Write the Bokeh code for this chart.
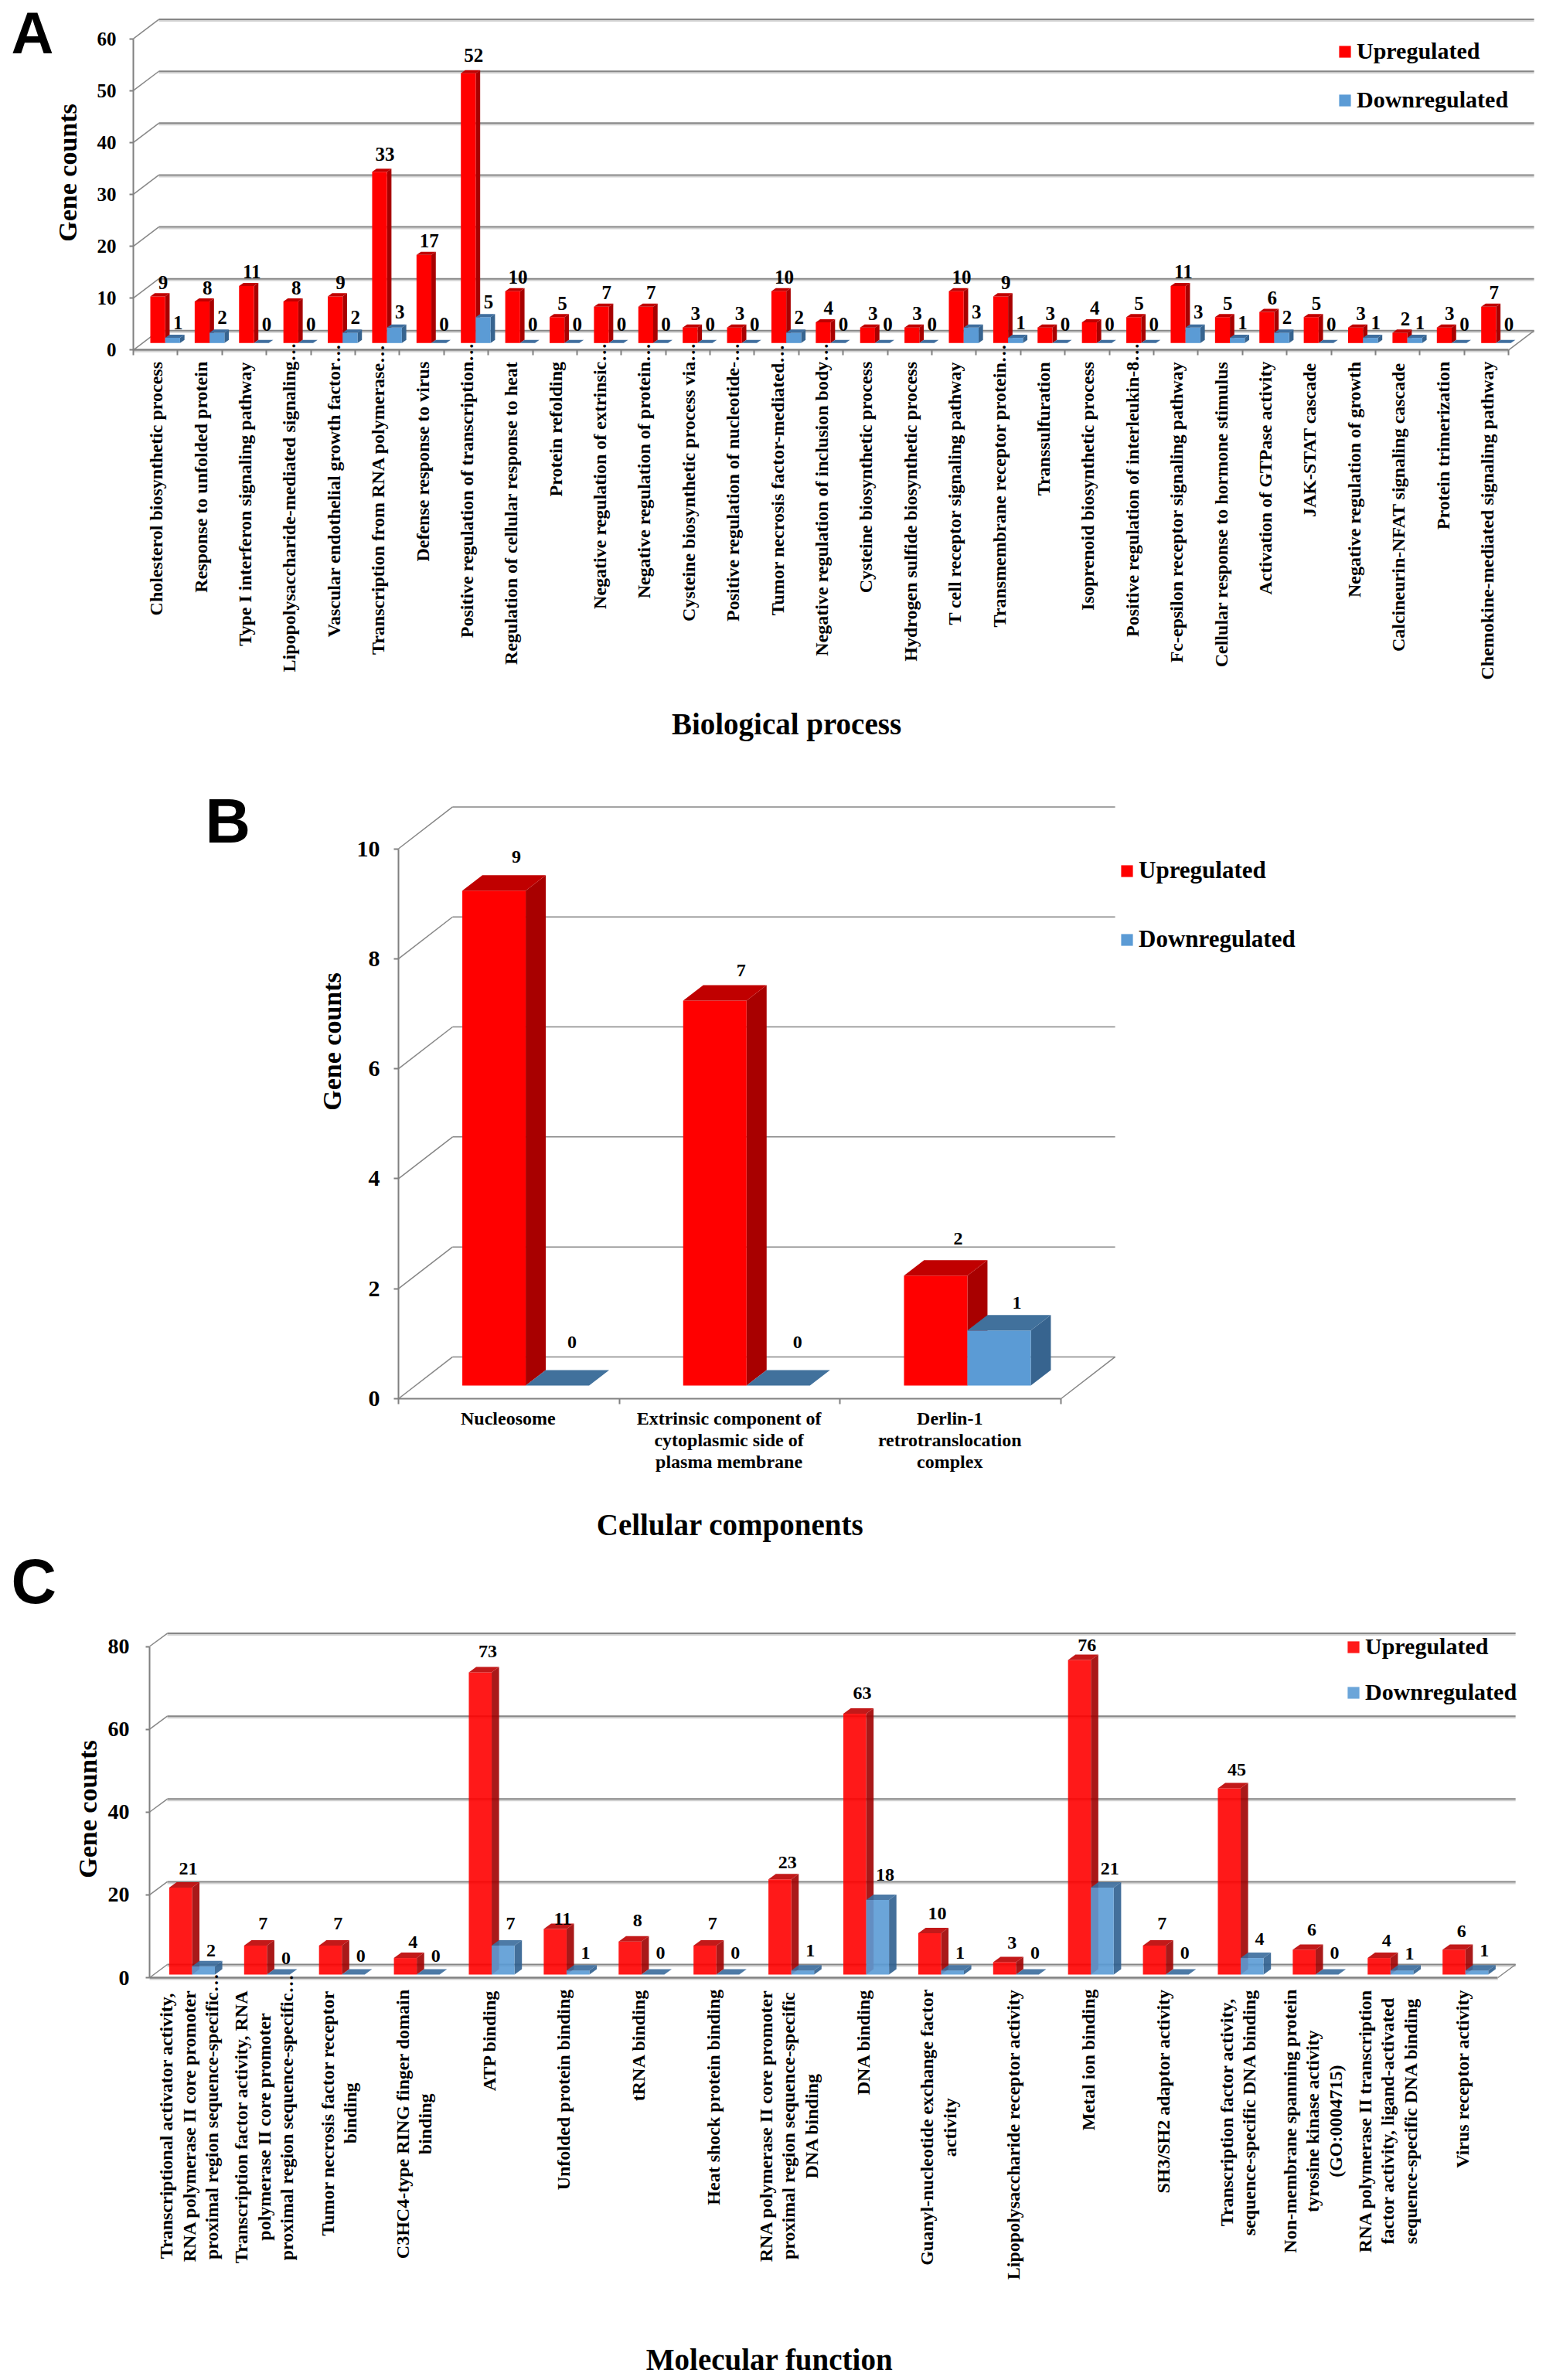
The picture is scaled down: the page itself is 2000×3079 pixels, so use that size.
from math import pi
from bokeh.plotting import figure
from bokeh.layouts import column
from bokeh.models import (ColumnDataSource, LabelSet, Label, Legend, LegendItem,
                          LinearAxis, FixedTicker, Range1d)
from bokeh.core.properties import value
from bokeh.embed import file_html
from bokeh.resources import INLINE

# ------------------------------ DATA ------------------------------
a_categories = [
    ["Cholesterol biosynthetic process"], ["Response to unfolded protein"],
    ["Type I interferon signaling pathway"], ["Lipopolysaccharide-mediated signaling…"],
    ["Vascular endothelial growth factor…"], ["Transcription from RNA polymerase…"],
    ["Defense response to virus"], ["Positive regulation of transcription…"],
    ["Regulation of cellular response to heat"], ["Protein refolding"],
    ["Negative regulation of extrinsic…"], ["Negative regulation of protein…"],
    ["Cysteine biosynthetic process via…"], ["Positive regulation of nucleotide-…"],
    ["Tumor necrosis factor-mediated…"], ["Negative regulation of inclusion body…"],
    ["Cysteine biosynthetic process"], ["Hydrogen sulfide biosynthetic process"],
    ["T cell receptor signaling pathway"], ["Transmembrane receptor protein…"],
    ["Transsulfuration"], ["Isoprenoid biosynthetic process"],
    ["Positive regulation of interleukin-8…"], ["Fc-epsilon receptor signaling pathway"],
    ["Cellular response to hormone stimulus"], ["Activation of GTPase activity"],
    ["JAK-STAT cascade"], ["Negative regulation of growth"],
    ["Calcineurin-NFAT signaling cascade"], ["Protein trimerization"],
    ["Chemokine-mediated signaling pathway"],
]
a_up = [9, 8, 11, 8, 9, 33, 17, 52, 10, 5, 7, 7, 3, 3, 10, 4, 3, 3, 10, 9, 3, 4, 5, 11, 5, 6, 5, 3, 2, 3, 7]
a_down = [1, 2, 0, 0, 2, 3, 0, 5, 0, 0, 0, 0, 0, 0, 2, 0, 0, 0, 3, 1, 0, 0, 0, 3, 1, 2, 0, 1, 1, 0, 0]
a_ticks = [0, 10, 20, 30, 40, 50, 60]

b_categories = [
    ["Nucleosome"],
    ["Extrinsic component of", "cytoplasmic side of", "plasma membrane"],
    ["Derlin-1", "retrotranslocation", "complex"],
]
b_up = [9, 7, 2]
b_down = [0, 0, 1]
b_ticks = [0, 2, 4, 6, 8, 10]

c_categories = [
    ["Transcriptional activator activity,", "RNA polymerase II core promoter", "proximal region sequence-specific…"],
    ["Transcription factor activity, RNA", "polymerase II core promoter", "proximal region sequence-specific…"],
    ["Tumor necrosis factor receptor", "binding"],
    ["C3HC4-type RING finger domain", "binding"],
    ["ATP binding"], ["Unfolded protein binding"], ["tRNA binding"], ["Heat shock protein binding"],
    ["RNA polymerase II core promoter", "proximal region sequence-specific", "DNA binding"],
    ["DNA binding"],
    ["Guanyl-nucleotide exchange factor", "activity"],
    ["Lipopolysaccharide receptor activity"],
    ["Metal ion binding"], ["SH3/SH2 adaptor activity"],
    ["Transcription factor activity,", "sequence-specific DNA binding"],
    ["Non-membrane spanning protein", "tyrosine kinase activity", "(GO:0004715)"],
    ["RNA polymerase II transcription", "factor activity, ligand-activated", "sequence-specific DNA binding"],
    ["Virus receptor activity"],
]
c_up = [21, 7, 7, 4, 73, 11, 8, 7, 23, 63, 10, 3, 76, 7, 45, 6, 4, 6]
c_down = [2, 0, 0, 0, 7, 1, 0, 0, 1, 18, 1, 0, 21, 0, 4, 0, 1, 1]
c_ticks = [0, 20, 40, 60, 80]

# ------------------------------ STYLE ------------------------------
SERIF = "Liberation Serif"
W = 1992
TIMES_BOLD = dict(zip("ABCDEFGHIJKLMNOPQRSTUVWXYZ",
    [722,667,722,722,667,611,778,778,389,500,778,667,944,722,778,611,778,722,556,667,722,722,1000,722,722,667]))
TIMES_BOLD.update(zip("abcdefghijklmnopqrstuvwxyz",
    [500,556,444,556,444,333,500,556,278,333,556,278,833,556,500,556,556,444,389,333,556,500,722,500,500,444]))
TIMES_BOLD.update({" ":250, ",":250, "-":333, "/":278, ":":333, "(":333, ")":333, "…":1000})
TIMES_BOLD.update({d:500 for d in "0123456789"})

def text_w(s, size):
    return sum(TIMES_BOLD.get(ch, 500) for ch in s) * size / 1000.0

def panel(cfg, cats, up, down, ticks):
    n = len(cats)
    X0, Y0, CW, YS = cfg["x0"], cfg["y0"], cfg["cat_px"], cfg["y_px"]
    fx = lambda px: (px - X0) / CW
    fy = lambda px: (Y0 - px) / YS
    top, bottom = cfg["fig"]
    xr = Range1d(fx(0), fx(W))
    yr = Range1d(fy(bottom), fy(top))
    p = figure(width=W, height=bottom - top, x_range=xr, y_range=yr,
               output_backend="svg", toolbar_location=None, x_axis_location=None, y_axis_location=None,
               min_border=0, outline_line_color=None, background_fill_color="white", border_fill_color="white")
    p.grid.visible = False

    ya = LinearAxis(ticker=FixedTicker(ticks=ticks), bounds=(0, ticks[-1]), fixed_location=0,
                    axis_line_color="#808080", axis_line_width=2, major_tick_line_color="#808080",
                    major_tick_line_width=2, major_tick_out=cfg["tick_y"], major_tick_in=0, minor_tick_line_color=None,
                    major_label_text_font=SERIF, major_label_text_font_style="bold",
                    major_label_text_font_size=cfg["tick_font"], major_label_text_color="black",
                    major_label_standoff=cfg["tick_standoff"])
    p.add_layout(ya, "left")
    xa = LinearAxis(ticker=FixedTicker(ticks=list(range(n + 1))), bounds=(0, n), fixed_location=0,
                    axis_line_color="#808080", axis_line_width=cfg["floor_w"],
                    major_tick_line_color="#808080" if cfg["tick_x"] else None, major_tick_line_width=2,
                    major_tick_out=cfg["tick_x"], major_tick_in=0, minor_tick_line_color=None,
                    major_label_text_color=None, major_label_text_font_size="1px", major_label_standoff=0)
    p.add_layout(xa, "below")

    bx, by = cfg["back"]
    # back wall gridlines, side-wall diagonals, floor edge
    if cfg["shadow"]:
        sh = cfg["shadow"] / YS
        p.segment(x0=[bx] * len(ticks), x1=[n + bx] * len(ticks), y0=[t + by - sh for t in ticks],
                  y1=[t + by - sh for t in ticks], line_color="#D2D2D2", line_width=2)
        p.segment(x0=[0], x1=[n], y0=[-sh], y1=[-sh], line_color="#D2D2D2", line_width=2)
    p.segment(x0=[bx] * len(ticks), x1=[n + bx] * len(ticks), y0=[t + by for t in ticks],
              y1=[t + by for t in ticks], line_color="#868686", line_width=cfg["grid_w"])
    p.segment(x0=[0] * len(ticks), x1=[bx] * len(ticks), y0=ticks, y1=[t + by for t in ticks],
              line_color="#868686", line_width=1.5)
    p.segment(x0=[n], x1=[n + bx], y0=[0], y1=[by], line_color="#868686", line_width=1.5)

    off, bw = cfg["bar"]
    dx, dy = cfg["depth"]
    base = cfg["base"]
    alpha = cfg["alpha"]
    rendered = []
    for vals, shift, col in ((up, 0, cfg["red"]), (down, bw, cfg["blue"])):
        l = [i + off + shift for i in range(n)]
        r = [a + bw for a in l]
        b = [base] * n
        t = [base + v for v in vals]
        side_x = [[a, a + dx, a + dx, a] for a in r]
        side_y = [[bb, bb + dy, tt + dy, tt] for bb, tt in zip(b, t)]
        top_x = [[a, a2, a2 + dx, a + dx] for a, a2 in zip(l, r)]
        top_y = [[tt, tt, tt + dy, tt + dy] for tt in t]
        p.patches(xs=side_x, ys=side_y, fill_color=col[1], line_color=None, fill_alpha=alpha)
        f = p.quad(left=l, right=r, bottom=b, top=t, fill_color=col[0], line_color=None, fill_alpha=alpha)
        p.patches(xs=top_x, ys=top_y, fill_color=col[2], line_color=None, fill_alpha=alpha)
        rendered.append(f)

    # data labels
    lx, ly, lt = [], [], []
    for i in range(n):
        lx.append(i + off + (bw + dx) / 2 + cfg["nudge_up"][i] / CW)
        ly.append(base + up[i] + dy + cfg["gap_up"][i] / YS)
        lt.append(str(up[i]))
        lx.append(i + off + bw + (bw + dx) / 2 + cfg["nudge_down"][i] / CW)
        ly.append(base + down[i] + dy + cfg["gap_down"][i] / YS)
        lt.append(str(down[i]))
    p.add_layout(LabelSet(x="x", y="y", text="t", source=ColumnDataSource(dict(x=lx, y=ly, t=lt)),
                          text_align="center", text_baseline="middle", text_font=value(SERIF),
                          text_font_style="bold", text_font_size=cfg["num_font"], text_color="black"))

    # category labels
    cx, cy, ct = [], [], []
    fs = cfg["cat_font"]
    fpx = float(fs[:-2])
    for i, lines in enumerate(cats):
        m = len(lines)
        if cfg["rot"]:
            longest = max(text_w(s.rstrip("…"), fpx) for s in lines)
            mid = cfg["cat_top"] + longest / 2
            for j, s in enumerate(lines):
                shift = fpx / 2 if s.endswith("…") else 0
                cx.append(i + 0.5 + (cfg["cat_dx"] + (j - (m - 1) / 2) * cfg["cat_lh"]) / CW)
                cy.append(fy(mid - shift))
                ct.append(s)
        else:
            for j, s in enumerate(lines):
                cx.append(i + 0.5 + cfg["cat_dx"] / CW)
                cy.append(fy(cfg["cat_top"] + j * cfg["cat_lh"]))
                ct.append(s)
    p.add_layout(LabelSet(x="x", y="y", text="t", source=ColumnDataSource(dict(x=cx, y=cy, t=ct)),
                          angle=pi / 2 if cfg["rot"] else 0, text_align="center", text_baseline="middle",
                          text_font=value(SERIF), text_font_style="bold", text_font_size=fs, text_color="black"))

    # titles and panel letter
    tx, ty = cfg["title_xy"]
    p.add_layout(Label(x=fx(tx), y=fy(ty), text=cfg["title"], text_align="center", text_baseline="middle",
                       text_font=SERIF, text_font_style="bold", text_font_size="39px", text_color="black"))
    gx, gy = cfg["gene_xy"]
    p.add_layout(Label(x=fx(gx), y=fy(gy), text="Gene counts", angle=pi / 2, text_align="center",
                       text_baseline="middle", text_font=SERIF, text_font_style="bold",
                       text_font_size="34px", text_color="black"))
    ax, ay = cfg["letter_xy"]
    p.add_layout(Label(x=fx(ax), y=fy(ay), text=cfg["letter"], text_align="left", text_baseline="alphabetic",
                       text_font="Liberation Sans", text_font_style="bold", text_font_size=cfg["letter_font"],
                       text_color="black"))

    # legend
    leg = Legend(items=[LegendItem(label="Upregulated", renderers=[rendered[0]]),
                        LegendItem(label="Downregulated", renderers=[rendered[1]])],
                 location=cfg["legend_loc"], orientation="vertical", spacing=cfg["legend_space"],
                 glyph_width=19, glyph_height=19, label_standoff=6, padding=0, margin=0,
                 background_fill_alpha=0, border_line_alpha=0, label_text_font=SERIF,
                 label_text_font_style="bold", label_text_font_size=cfg["legend_font"],
                 label_text_color="black", label_text_baseline="middle")
    p.add_layout(leg)
    return p

RED_A = ("#FF0000", "#A80000", "#C00000")
BLUE_A = ("#5B9BD5", "#37648F", "#3F6E9E")

# label clearances follow what the reference shows: taller bars and empty bars sit a little further off
gaps_a_up = [19 if v >= 30 else 14 for v in a_up]
gaps_a_down = [20 if v == 0 else 16 for v in a_down]

cfg_a = dict(fig=(0, 960), x0=172, y0=452.3, cat_px=57.39, y_px=6.712,
             tick_y=5, tick_x=7, tick_font="25px", tick_standoff=17, floor_w=2.5, grid_w=2, shadow=2,
             back=(0.575, 3.72), bar=(0.383, 0.335), depth=(0.1, 0.6), base=1.34, alpha=1,
             red=RED_A, blue=BLUE_A, nudge_up=[4] * 31, nudge_down=[4] * 31,
             gap_up=gaps_a_up, gap_down=gaps_a_down, num_font="25px",
             rot=True, cat_top=467, cat_dx=1, cat_lh=26, cat_font="24px",
             title="Biological process", title_xy=(1017, 936), gene_xy=(87, 223),
             letter="A", letter_xy=(14, 42), letter_font="76px",
             legend_loc=(1730, 814), legend_space=29, legend_font="30px")

cfg_b = dict(fig=(960, 2000), x0=515, y0=1809, cat_px=285.7, y_px=71.15,
             tick_y=6, tick_x=7, tick_font="30px", tick_standoff=18, floor_w=2, grid_w=1.5, shadow=0,
             back=(0.245, 0.76), bar=(0.289, 0.287), depth=(0.091, 0.281), base=0.239, alpha=1,
             red=("#FF0000", "#A80000", "#C00000"), blue=("#5B9BD5", "#37648F", "#41719C"),
             nudge_up=[16, 21, 16], nudge_down=[6, 12, 10], gap_up=[24, 18.6, 28], gap_down=[36, 36, 16],
             num_font="24px", rot=False, cat_top=1834, cat_dx=-1, cat_lh=28, cat_font="24px",
             title="Cellular components", title_xy=(944, 1972), gene_xy=(429, 1347),
             letter="B", letter_xy=(265, 1061), letter_font="81px",
             legend_loc=(1448, 767), legend_space=53, legend_font="31px")

cfg_c = dict(fig=(2000, 3075), x0=193, y0=2558, cat_px=96.9, y_px=5.356,
             tick_y=5, tick_x=0, tick_font="28px", tick_standoff=21, floor_w=2.5, grid_w=2, shadow=2,
             back=(0.237, 3.17), bar=(0.262, 0.305), depth=(0.099, 1.3), base=0.75, alpha=0.9,
             red=("#FF0000", "#A00000", "#BB0000"), blue=("#5B9BD5", "#2F5F8F", "#3A6C9C"),
             nudge_up=[5] * 18, nudge_down=[5] * 18,
             gap_up=[18, 22, 22, 14, 20, 6, 20, 22, 15, 20, 18, 18, 12, 22, 17, 19, 16, 17],
             gap_down=[13, 14, 17, 17, 22, 16, 21, 21, 19, 26, 16, 21, 18, 21, 18, 21, 15, 19],
             num_font="24px", rot=True, cat_top=2573, cat_dx=3, cat_lh=29.5, cat_font="24px",
             title="Molecular function", title_xy=(995, 3052), gene_xy=(113, 2340),
             letter="C", letter_xy=(14, 2045), letter_font="81px",
             legend_loc=(1741, 869), legend_space=25, legend_font="30px")

p_a = panel(cfg_a, a_categories, a_up, a_down, a_ticks)
p_b = panel(cfg_b, b_categories, b_up, b_down, b_ticks)
p_c = panel(cfg_c, c_categories, c_up, c_down, c_ticks)

page = column(p_a, p_b, p_c, spacing=0)
open("out.html", "w").write(file_html(page, INLINE))
